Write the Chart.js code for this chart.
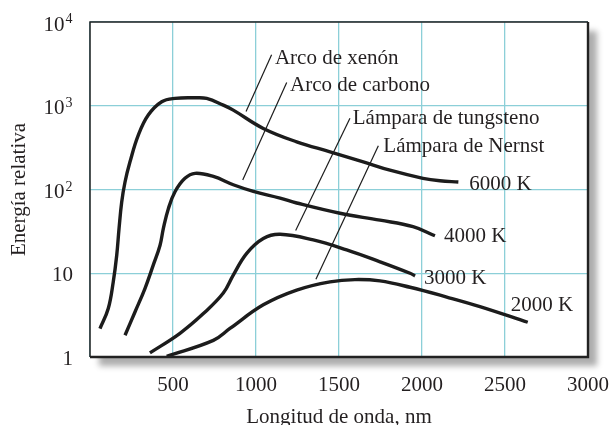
<!DOCTYPE html>
<html>
<head>
<meta charset="utf-8">
<script src="https://cdn.jsdelivr.net/npm/chart.js@4.4.1/dist/chart.umd.min.js"></script>
<style>
  html, body { margin: 0; padding: 0; background: #fff; }
  #wrap { width: 610px; height: 425px; }
</style>
</head>
<body>
<div id="wrap"><canvas id="grafico" width="610" height="425"></canvas></div>
<script>
// valores (longitud de onda en nm, energia relativa)
const wavelengthXenon = [60, 110, 140, 161, 175, 191, 211, 241, 291, 351, 432, 512, 633, 703, 803, 863, 1044, 1245, 1446, 1646, 1807, 2006, 2108, 2219];
const energyXenon = [2.18, 3.79, 7.88, 16.4, 34.3, 71, 123, 214, 446, 774, 1115, 1225, 1245, 1222, 1016, 887, 536, 371, 282, 214, 170, 136, 127, 123];

const wavelengthCarbon = [211, 271, 331, 381, 422, 442, 472, 512, 572, 633, 743, 863, 984, 1145, 1245, 1506, 1747, 1946, 2078];
const energyCarbon = [1.82, 3.45, 6.57, 12.5, 21.6, 34.3, 59, 94, 136, 156, 143, 114, 95, 79, 69, 52, 43, 36, 28];

const wavelengthTungsten = [361, 542, 683, 803, 863, 944, 1044, 1145, 1345, 1546, 1747, 1928, 1958];
const energyTungsten = [1.12, 1.92, 3.3, 5.8, 9.5, 17.3, 26, 29.2, 25, 19, 13.7, 10, 9.3];

const wavelengthNernst = [462, 743, 843, 1044, 1245, 1446, 1596, 1747, 1928, 2149, 2349, 2637];
const energyNernst = [1.02, 1.58, 2.19, 4.2, 6.3, 7.9, 8.4, 8.1, 6.8, 5.2, 4.0, 2.6];

const sourceNames = ['Arco de xenón', 'Arco de carbono', 'Lámpara de tungsteno', 'Lámpara de Nernst'];
const temperatureNames = ['6000 K', '4000 K', '3000 K', '2000 K'];

const xTicks = [0, 500, 1000, 1500, 2000, 2500, 3000];
const yTicks = [1, 10, 100, 1000, 10000];
const yTickBase = ['1', '10', '10', '10', '10'];
const yTickExp = ['', '', '2', '3', '4'];

// donde van los textos y las lineas guia (en unidades del grafico)
const sourceLabelAt = [[1114, 3140], [1205, 1497], [1583, 604], [1767, 282]];
const leaderFrom = [[1094, 4056], [1185, 1893], [1566, 711], [1737, 332]];
const leaderTo = [[940, 853], [920, 130], [1239, 32.3], [1361, 8.5]];
const temperatureLabelAt = [[2285, 100], [2133, 23.3], [2012, 7.4], [2534, 3.55]];

const fuente = "'Liberation Serif', 'Times New Roman', serif";
const colorTexto = '#231f20';
const colorRejilla = '#8ccfd8';

function puntos(xs, ys) {
    return xs.map((x, i) => ({ x: x, y: ys[i] }));
}

var curvas = [
    puntos(wavelengthXenon, energyXenon),
    puntos(wavelengthCarbon, energyCarbon),
    puntos(wavelengthTungsten, energyTungsten),
    puntos(wavelengthNernst, energyNernst)
];

var datasets = curvas.map((datos, i) => ({
    label: temperatureNames[i],
    data: datos,
    borderColor: '#1c1c1c',
    borderWidth: 3.4,
    pointRadius: 0,
    fill: false,
    tension: 0.4
}));

leaderFrom.forEach((p, i) => {
    datasets.push({
        label: sourceNames[i],
        data: [{ x: p[0], y: p[1] }, { x: leaderTo[i][0], y: leaderTo[i][1] }],
        borderColor: '#1c1c1c',
        borderWidth: 1.2,
        pointRadius: 0,
        tension: 0,
        fill: false
    });
});

const marcoPlugin = {
    id: 'marco',
    beforeDraw(chart) {
        const { ctx, chartArea: a } = chart;
        ctx.save();
        ctx.shadowColor = 'rgba(0, 0, 0, 0.32)';
        ctx.shadowBlur = 6;
        ctx.shadowOffsetX = 9;
        ctx.shadowOffsetY = 9;
        ctx.fillStyle = '#fff';
        ctx.fillRect(a.left, a.top, a.right - a.left, a.bottom - a.top);
        ctx.restore();
    },
    afterDatasetsDraw(chart) {
        const { ctx, chartArea: a, scales } = chart;
        ctx.save();
        // marco
        ctx.strokeStyle = '#222';
        ctx.lineWidth = 1.5;
        ctx.beginPath();
        ctx.moveTo(a.left, a.bottom);
        ctx.lineTo(a.left, a.top);
        ctx.lineTo(a.right, a.top);
        ctx.stroke();
        ctx.lineWidth = 2.4;
        ctx.beginPath();
        ctx.moveTo(a.right, a.top);
        ctx.lineTo(a.right, a.bottom);
        ctx.lineTo(a.left, a.bottom);
        ctx.stroke();

        ctx.fillStyle = colorTexto;
        ctx.textBaseline = 'alphabetic';
        ctx.textAlign = 'left';
        ctx.font = '21px ' + fuente;
        sourceNames.forEach((t, i) => {
            ctx.fillText(t, scales.x.getPixelForValue(sourceLabelAt[i][0]), scales.y.getPixelForValue(sourceLabelAt[i][1]));
        });
        temperatureNames.forEach((t, i) => {
            ctx.fillText(t, scales.x.getPixelForValue(temperatureLabelAt[i][0]), scales.y.getPixelForValue(temperatureLabelAt[i][1]));
        });

        // etiquetas del eje y con exponente
        ctx.textAlign = 'right';
        yTicks.forEach((v, i) => {
            const y = scales.y.getPixelForValue(v);
            if (yTickExp[i]) {
                ctx.font = '14px ' + fuente;
                ctx.fillText(yTickExp[i], 72.5, y + 1);
                const w = ctx.measureText(yTickExp[i]).width;
                ctx.font = '21px ' + fuente;
                ctx.fillText(yTickBase[i], 72.5 - w - 1, y + 8.5);
            } else {
                ctx.font = '21px ' + fuente;
                ctx.fillText(yTickBase[i], 73, y + 7.5);
            }
        });
        ctx.restore();
    }
};

var grafico = new Chart(document.getElementById('grafico').getContext('2d'), {
    type: 'line',
    data: { datasets: datasets },
    options: {
        responsive: false,
        animation: false,
        layout: { padding: { top: 22, right: 22, left: 0, bottom: 0 } },
        plugins: {
            legend: { display: false },
            tooltip: { enabled: false }
        },
        scales: {
            x: {
                type: 'linear',
                min: 0,
                max: 3000,
                afterBuildTicks: function(scale) {
                    scale.ticks = xTicks.map(v => ({ value: v }));
                },
                afterFit: function(scale) {
                    scale.height = 68;
                    scale.paddingLeft = 0;
                    scale.paddingRight = 0;
                },
                ticks: {
                    autoSkip: false,
                    maxRotation: 0,
                    padding: 16,
                    color: colorTexto,
                    font: { size: 21, family: fuente },
                    callback: function(value) {
                        return value === 0 ? '' : String(value);
                    }
                },
                grid: { color: colorRejilla, lineWidth: 1.3, drawTicks: false },
                border: { display: false },
                title: {
                    display: true,
                    text: 'Longitud de onda, nm',
                    color: colorTexto,
                    font: { size: 21, family: fuente, lineHeight: 0.76 },
                    padding: { top: 0, bottom: 0 }
                }
            },
            y: {
                type: 'logarithmic',
                min: 1,
                max: 10000,
                afterBuildTicks: function(scale) {
                    scale.ticks = yTicks.map(v => ({ value: v }));
                },
                afterFit: function(scale) {
                    scale.width = 90;
                    scale.paddingTop = 0;
                    scale.paddingBottom = 0;
                },
                ticks: { display: false },
                grid: { color: colorRejilla, lineWidth: 1.3, drawTicks: false },
                border: { display: false },
                title: {
                    display: true,
                    text: 'Energía relativa',
                    color: colorTexto,
                    font: { size: 21, family: fuente, lineHeight: 1 },
                    padding: { top: 9, bottom: 0 }
                }
            }
        }
    },
    plugins: [marcoPlugin]
});
</script>
</body>
</html>
